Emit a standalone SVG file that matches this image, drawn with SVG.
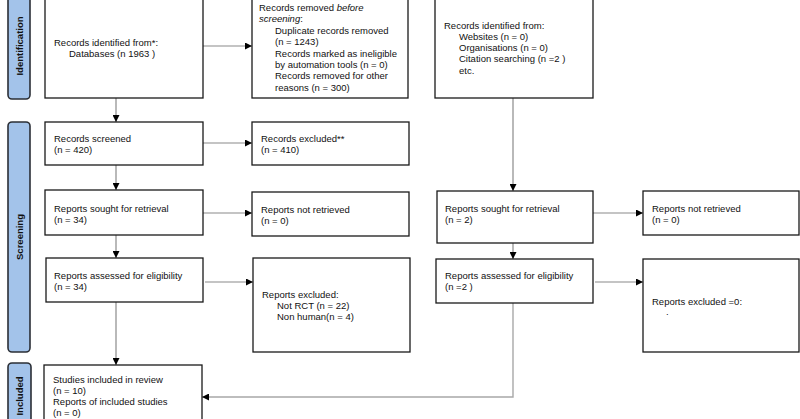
<svg xmlns="http://www.w3.org/2000/svg" width="800" height="419" viewBox="0 0 800 419">
<style>
  .bg { fill: #ffffff; }
  .box { fill: #ffffff; stroke: #1a1a1a; stroke-width: 1.3; }
  .side { fill: #a3c3ea; stroke: #2b2f36; stroke-width: 1.6; }
  .t { font-family: "Liberation Sans", Arial, sans-serif; font-size: 9.5px; fill: #111111; }
  .lab { font-family: "Liberation Sans", Arial, sans-serif; font-size: 9.5px; font-weight: bold; fill: #111111; }
  .c { fill: none; stroke: #8a8a8a; stroke-width: 1.2; }
  .c2 { fill: none; stroke: #a8a8a8; stroke-width: 1.4; }
</style>
<defs>
  <marker id="ah" viewBox="0 0 10 10" refX="10" refY="5" markerWidth="7" markerHeight="7" markerUnits="userSpaceOnUse" orient="auto">
    <path d="M0,0 L10,5 L0,10 Z" fill="#000000"/>
  </marker>
</defs>
<rect class="bg" x="0" y="0" width="800" height="419"/>

<g id="sidebars">
  <g id="side-identification">
    <rect class="side" x="8" y="-10" width="22" height="109" rx="4"/>
    <text class="lab" transform="translate(22.5,46) rotate(-90)" text-anchor="middle">Identification</text>
  </g>
  <g id="side-screening">
    <rect class="side" x="8" y="122" width="22" height="230" rx="4"/>
    <text class="lab" transform="translate(22.5,237) rotate(-90)" text-anchor="middle">Screening</text>
  </g>
  <g id="side-included">
    <rect class="side" x="8" y="363" width="23" height="70" rx="4"/>
    <text class="lab" transform="translate(23,396) rotate(-90)" text-anchor="middle">Included</text>
  </g>
</g>

<g id="connectors">
  <line class="c" x1="203" y1="46" x2="252" y2="46" marker-end="url(#ah)"/>
  <line class="c" x1="116" y1="98" x2="116" y2="122" marker-end="url(#ah)"/>
  <line class="c" x1="203" y1="143" x2="252" y2="143" marker-end="url(#ah)"/>
  <line class="c" x1="116" y1="165" x2="116" y2="190" marker-end="url(#ah)"/>
  <line class="c" x1="203" y1="213" x2="252" y2="213" marker-end="url(#ah)"/>
  <line class="c" x1="116" y1="235" x2="116" y2="258" marker-end="url(#ah)"/>
  <line class="c" x1="205" y1="282" x2="253" y2="282" marker-end="url(#ah)"/>
  <line class="c" x1="116" y1="302" x2="116" y2="365" marker-end="url(#ah)"/>
  <line class="c" x1="513" y1="98" x2="513" y2="191" marker-end="url(#ah)"/>
  <line class="c" x1="593" y1="213" x2="643" y2="213" marker-end="url(#ah)"/>
  <line class="c" x1="513" y1="243" x2="513" y2="259" marker-end="url(#ah)"/>
  <line class="c" x1="595" y1="282" x2="643" y2="282" marker-end="url(#ah)"/>
  <polyline class="c2" points="513,303 513,397 202,397" marker-end="url(#ah)"/>
</g>

<g id="n-db">
  <rect class="box" x="45" y="-10" width="158" height="108"/>
  <text class="t" x="54" y="45.5">Records identified from*:</text>
  <text class="t" x="69" y="57">Databases (n 1963 )</text>
</g>

<g id="n-removed">
  <rect class="box" x="252" y="-10" width="156" height="108"/>
  <text class="t" x="259" y="11">Records removed <tspan font-style="italic">before</tspan></text>
  <text class="t" x="259" y="22.4"><tspan font-style="italic">screening</tspan>:</text>
  <text class="t" x="275" y="33.8">Duplicate records removed</text>
  <text class="t" x="275" y="45.2">(n = 1243)</text>
  <text class="t" x="275" y="56.6">Records marked as ineligible</text>
  <text class="t" x="275" y="68">by automation tools (n = 0)</text>
  <text class="t" x="275" y="79.4">Records removed for other</text>
  <text class="t" x="275" y="90.8">reasons (n = 300)</text>
</g>

<g id="n-other">
  <rect class="box" x="435" y="-10" width="158" height="108"/>
  <text class="t" x="444" y="28.5">Records identified from:</text>
  <text class="t" x="459" y="39.8">Websites (n = 0)</text>
  <text class="t" x="459" y="51.1">Organisations (n = 0)</text>
  <text class="t" x="459" y="62.4">Citation searching (n =2 )</text>
  <text class="t" x="459" y="73.7">etc.</text>
</g>

<g id="n-screened">
  <rect class="box" x="45" y="122" width="158" height="43"/>
  <text class="t" x="54" y="141.5">Records screened</text>
  <text class="t" x="54" y="153">(n = 420)</text>
</g>

<g id="n-excluded">
  <rect class="box" x="252" y="122" width="157" height="43"/>
  <text class="t" x="261" y="141.5">Records excluded**</text>
  <text class="t" x="261" y="153">(n = 410)</text>
</g>

<g id="n-sought1">
  <rect class="box" x="45" y="190" width="158" height="45"/>
  <text class="t" x="54" y="211.5">Reports sought for retrieval</text>
  <text class="t" x="54" y="222.8">(n = 34)</text>
</g>

<g id="n-notret1">
  <rect class="box" x="252" y="192" width="157" height="44"/>
  <text class="t" x="261" y="212.5">Reports not retrieved</text>
  <text class="t" x="261" y="223.8">(n = 0)</text>
</g>

<g id="n-assessed1">
  <rect class="box" x="46" y="258" width="157" height="44"/>
  <text class="t" x="54" y="278.5">Reports assessed for eligibility</text>
  <text class="t" x="54" y="289.8">(n = 34)</text>
</g>

<g id="n-repexcl1">
  <rect class="box" x="253" y="258" width="157" height="94"/>
  <text class="t" x="262" y="297.5">Reports excluded:</text>
  <text class="t" x="277" y="308.8">Not RCT  (n = 22)</text>
  <text class="t" x="277" y="320">Non human(n = 4)</text>
</g>

<g id="n-included">
  <rect class="box" x="44" y="365" width="158" height="70"/>
  <text class="t" x="53" y="382.5">Studies included in review</text>
  <text class="t" x="53" y="393.8">(n = 10)</text>
  <text class="t" x="53" y="405">Reports of included studies</text>
  <text class="t" x="53" y="416.3">(n = 0)</text>
</g>

<g id="n-sought2">
  <rect class="box" x="437" y="191" width="156" height="52"/>
  <text class="t" x="445" y="211.5">Reports sought for retrieval</text>
  <text class="t" x="445" y="222.8">(n = 2)</text>
</g>

<g id="n-notret2">
  <rect class="box" x="643" y="191" width="156" height="44"/>
  <text class="t" x="652" y="211.5">Reports not retrieved</text>
  <text class="t" x="652" y="222.8">(n = 0)</text>
</g>

<g id="n-assessed2">
  <rect class="box" x="436" y="259" width="157" height="44"/>
  <text class="t" x="445" y="279">Reports assessed for eligibility</text>
  <text class="t" x="445" y="290.3">(n =2 )</text>
</g>

<g id="n-repexcl2">
  <rect class="box" x="643" y="259" width="156" height="93"/>
  <text class="t" x="652" y="304.5">Reports excluded =0:</text>
  <text class="t" x="666" y="315">.</text>
</g>
</svg>
